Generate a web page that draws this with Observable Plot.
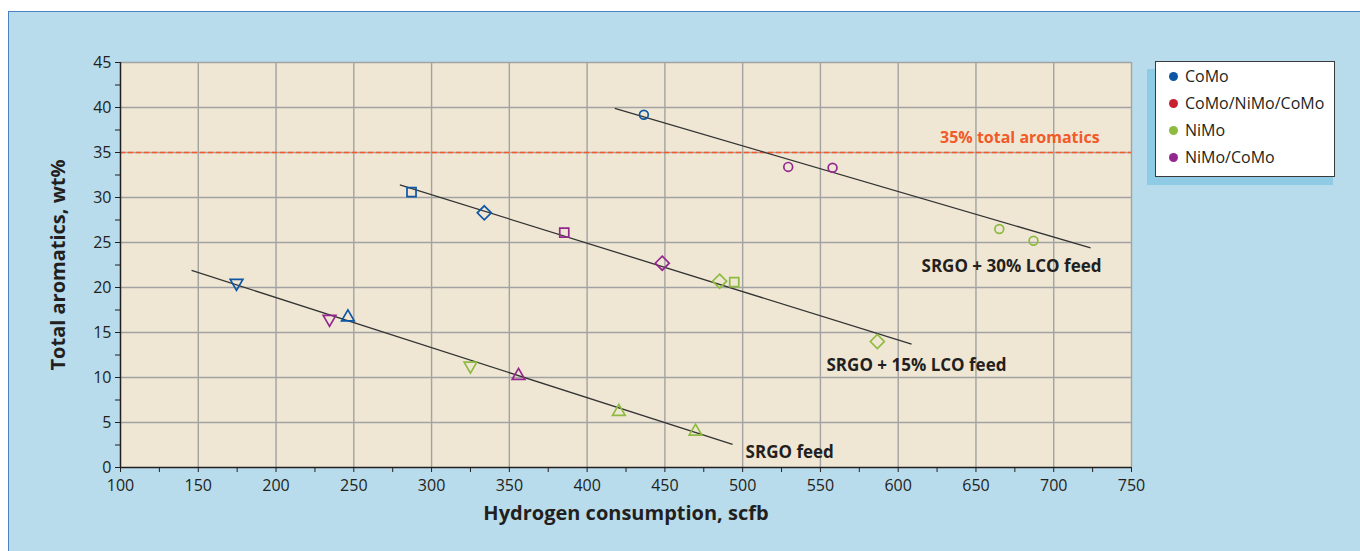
<!DOCTYPE html>
<html>
<head>
<meta charset="utf-8">
<script src="https://cdn.jsdelivr.net/npm/d3@7"></script>
<script src="https://cdn.jsdelivr.net/npm/@observablehq/plot@0.6"></script>
<style>
html, body { margin: 0; padding: 0; background: #fff; }
#wrap { position: relative; width: 1360px; height: 551px; overflow: hidden; font-family: "Open Sans", sans-serif; color: #231f20; }
#panel { position: absolute; left: 8px; top: 11px; width: 1400px; height: 600px; background: #b8dcec; border-top: 1.5px solid #4a84bf; border-left: 1.5px solid #4a84bf; }
#chart { position: absolute; left: 0; top: 0; }
#shadow { position: absolute; left: 1147px; top: 69px; width: 186px; height: 116px; background: #8fcbe5; }
#legend { position: absolute; left: 1155px; top: 61px; width: 180px; height: 116px; box-sizing: border-box; background: #fff; border: 1.5px solid #3a3a3a; }
.row { position: absolute; left: 0; height: 20px; display: flex; align-items: center; font-size: 16px; white-space: nowrap; }
.sw { width: 9px; height: 9px; border-radius: 50%; margin-left: 13px; margin-right: 7px; }
</style>
</head>
<body>
<div id="wrap">
  <div id="panel"></div>
  <div id="chart"></div>
  <div id="shadow"></div>
  <div id="legend"></div>
</div>
<script>
// ---- data ----
const catalysts = ["CoMo", "CoMo/NiMo/CoMo", "NiMo", "NiMo/CoMo"];
const catalystColors = ["#0d56a5", "#c8202f", "#8dbb3f", "#93278f"];

// measured points (hydrogen consumption scfb, total aromatics wt%)
const ptX = [174.6, 234.4, 246.2, 325.0, 355.9, 420.4, 469.7,
             287.1, 333.9, 385.3, 448.3, 485.2, 494.6, 586.6,
             436.5, 529.3, 557.8, 665.0, 687.0];
const ptY = [20.5, 16.5, 16.7, 11.3, 10.2, 6.2, 4.0,
             30.6, 28.3, 26.1, 22.7, 20.7, 20.6, 14.0,
             39.2, 33.4, 33.3, 26.5, 25.2];
const ptCat = ["CoMo", "NiMo/CoMo", "CoMo", "NiMo", "NiMo/CoMo", "NiMo", "NiMo",
               "CoMo", "CoMo", "NiMo/CoMo", "NiMo/CoMo", "NiMo", "NiMo", "NiMo",
               "CoMo", "NiMo/CoMo", "NiMo/CoMo", "NiMo", "NiMo"];
const ptShape = ["triDown", "triDown", "triUp", "triDown", "triUp", "triUp", "triUp",
                 "square", "diamond", "square", "diamond", "diamond", "square", "diamond",
                 "circle", "circle", "circle", "circle", "circle"];

// trend lines per feed
const feeds = ["SRGO feed", "SRGO + 15% LCO feed", "SRGO + 30% LCO feed"];
const lineX1 = [145.7, 279.6, 417.8];
const lineY1 = [21.9, 31.4, 39.9];
const lineX2 = [493.5, 608.6, 723.7];
const lineY2 = [2.56, 13.7, 24.4];
const feedLabelX = [501.9, 553.9, 615.0];
const feedLabelY = [1.7, 11.3, 22.3];

// 35% limit
const limitY = 35;
const limitLabel = "35% total aromatics";
const limitLabelX = 729.5;
const limitLabelY = 36.6;

const xTicks = d3.range(100, 751, 25);
const yTicks = d3.range(0, 45.01, 2.5);
const xTitle = "Hydrogen consumption, scfb";
const yTitle = "Total aromatics, wt%";

// ---- build ----
const points = ptX.map((x, i) => ({x, y: ptY[i], cat: ptCat[i], shape: ptShape[i]}));
const trends = feeds.map((f, i) => ({feed: f, x1: lineX1[i], y1: lineY1[i], x2: lineX2[i], y2: lineY2[i], lx: feedLabelX[i], ly: feedLabelY[i]}));

const sqrt3 = Math.sqrt(3);
const triDown = {
  draw(context, size) {
    const y = Math.sqrt(size / (sqrt3 * 3));
    context.moveTo(0, y * 2);
    context.lineTo(-sqrt3 * y, -y);
    context.lineTo(sqrt3 * y, -y);
    context.closePath();
  }
};
const shapeSpec = {
  circle: {symbol: "circle", r: 4.4},
  square: {symbol: "square", r: 5.1},
  diamond: {symbol: "diamond2", r: 6.3},
  triUp: {symbol: "triangle", r: 4.7},
  triDown: {symbol: triDown, r: 4.7}
};

const font = "Open Sans";
const ink = "#231f20";

const chart = Plot.plot({
  width: 1360,
  height: 551,
  marginLeft: 120,
  marginRight: 229,
  marginTop: 62,
  marginBottom: 84,
  x: {domain: [100, 750]},
  y: {domain: [0, 45]},
  color: {domain: catalysts, range: catalystColors},
  style: {background: "transparent", fontFamily: font, fontSize: "16px", color: ink, overflow: "visible"},
  marks: [
    Plot.frame({fill: "#efe7d4", stroke: null}),
    Plot.gridX(d3.range(150, 751, 50), {stroke: "#a2a2a2", strokeOpacity: 1, strokeWidth: 1.4}),
    Plot.gridY(d3.range(5, 45.01, 5), {stroke: "#a2a2a2", strokeOpacity: 1, strokeWidth: 1.4}),
    Plot.ruleY([limitY], {stroke: "#f15a29", strokeWidth: 1.6, strokeDasharray: "5,3"}),
    Plot.text([limitLabel], {x: limitLabelX, y: limitLabelY, textAnchor: "end", fill: "#f15a29", fontWeight: "bold", fontSize: 16}),
    Plot.link(trends, {x1: "x1", y1: "y1", x2: "x2", y2: "y2", stroke: "#333", strokeWidth: 1.3}),
    Plot.text(trends, {x: "lx", y: "ly", text: "feed", textAnchor: "start", fill: ink, fontWeight: "bold", fontSize: 17}),
    ...Object.entries(shapeSpec).map(([k, s]) =>
      Plot.dot(points, {filter: d => d.shape === k, x: "x", y: "y", stroke: "cat", symbol: s.symbol, r: s.r, strokeWidth: 1.7, fill: "none"})
    ),
    Plot.axisX({ticks: xTicks, tickFormat: d => d % 50 === 0 ? String(d) : "", tickSize: 5, tickPadding: 7, label: null, stroke: ink, fill: ink, fontSize: 16}),
    Plot.axisY({ticks: yTicks, tickFormat: d => d % 5 === 0 ? String(d) : "", tickSize: 5, tickPadding: 4, label: null, stroke: ink, fill: ink, fontSize: 16}),
    Plot.ruleX([100], {stroke: ink, strokeWidth: 1.5}),
    Plot.ruleY([0], {stroke: ink, strokeWidth: 1.5}),
    Plot.text([xTitle], {frameAnchor: "bottom", dy: 52, textAnchor: "middle", fontWeight: "bold", fontSize: 20, fill: ink}),
    Plot.text([yTitle], {frameAnchor: "left", dx: -62, textAnchor: "middle", rotate: -90, fontWeight: "bold", fontSize: 20, fill: ink})
  ]
});
document.getElementById("chart").appendChild(chart);

// legend
const legend = document.getElementById("legend");
const rowTops = [4, 31, 58, 85];
catalysts.forEach((c, i) => {
  const row = document.createElement("div");
  row.className = "row";
  row.style.top = rowTops[i] + "px";
  const sw = document.createElement("span");
  sw.className = "sw";
  sw.style.background = catalystColors[i];
  const t = document.createElement("span");
  t.textContent = c;
  row.appendChild(sw);
  row.appendChild(t);
  legend.appendChild(row);
});
</script>
</body>
</html>
